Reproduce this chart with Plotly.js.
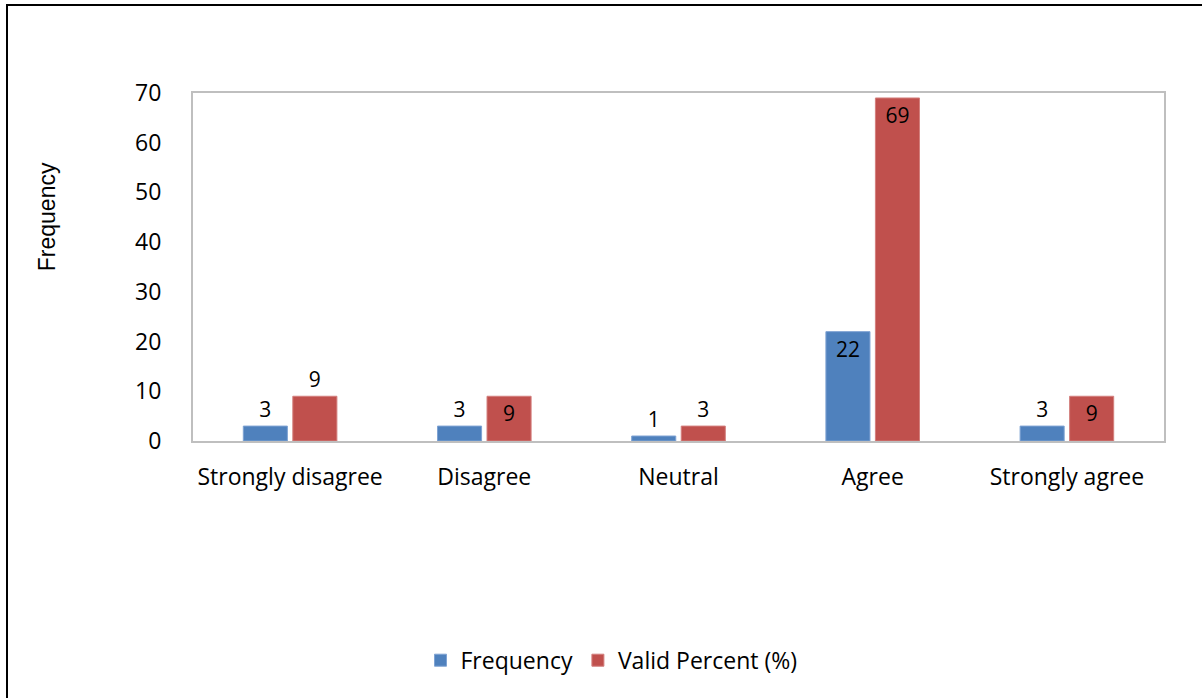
<!DOCTYPE html>
<html>
<head>
<meta charset="utf-8">
<script src="https://cdn.plot.ly/plotly-3.0.1.min.js"></script>
<style>
  html, body { margin: 0; padding: 0; background: #fff; }
  #wrap { position: relative; width: 1202px; height: 698px; }
  #chart { width: 1202px; height: 698px; }
  #frame { position: absolute; left: 6px; top: 4px; right: 0; bottom: 0;
           border-top: 2px solid #000; border-left: 2px solid #000; pointer-events: none; }
</style>
</head>
<body>
<div id="wrap">
  <div id="chart"></div>
  <div id="frame"></div>
</div>
<script>
const categories = ["Strongly disagree", "Disagree", "Neutral", "Agree", "Strongly agree"];
const frequency = [3, 3, 1, 22, 3];
const validPercent = [9, 9, 3, 69, 9];
const freqLabelPos = ["outside", "outside", "outside", "inside", "outside"];
const pctLabelPos = ["outside", "inside", "outside", "inside", "inside"];
const yTitle = "Frequency";

const mainFont = "'Open Sans', sans-serif";
const lblFont = { family: mainFont, size: 21, color: "#000" };

const traces = [
  {
    type: "bar", name: "Frequency", x: categories, y: frequency,
    text: frequency.map(String), textposition: freqLabelPos,
    insidetextanchor: "end", textangle: 0, cliponaxis: false,
    textfont: lblFont, insidetextfont: lblFont, outsidetextfont: lblFont,
    marker: { color: "#4F81BD", line: { color: "#7fa3d3", width: 1 } }
  },
  {
    type: "bar", name: "Valid Percent (%)", x: categories, y: validPercent,
    text: validPercent.map(String), textposition: pctLabelPos,
    insidetextanchor: "end", textangle: 0, cliponaxis: false,
    textfont: lblFont, insidetextfont: lblFont, outsidetextfont: lblFont,
    marker: { color: "#C0504D", line: { color: "#d37f7d", width: 1 } }
  }
];

const layout = {
  width: 1202, height: 698,
  margin: { l: 193, r: 38, t: 93, b: 257 },
  paper_bgcolor: "#fff", plot_bgcolor: "#fff",
  barmode: "group", bargap: 0.49, bargroupgap: 0.11,
  font: { family: mainFont, size: 23, color: "#000" },
  showlegend: true,
  legend: {
    orientation: "h", x: 0.431, xanchor: "center", y: -0.63, yanchor: "middle",
    font: { family: mainFont, size: 23, color: "#000" },
    itemwidth: 30, tracegroupgap: 0
  },
  xaxis: {
    showline: true, linecolor: "#bfbfbf", linewidth: 2, mirror: true,
    ticks: "", showgrid: false, ticklabelstandoff: 14,
    tickfont: { family: mainFont, size: 23, color: "#000" }
  },
  yaxis: {
    range: [0, 70], dtick: 10, tick0: 0,
    showline: true, linecolor: "#bfbfbf", linewidth: 2, mirror: true,
    ticks: "", showgrid: false, zeroline: false, ticklabelstandoff: 25,
    tickfont: { family: mainFont, size: 23, color: "#000" }
  },
  annotations: [{
    text: yTitle, xref: "paper", yref: "paper", x: -0.150, y: 0.644,
    xanchor: "center", yanchor: "middle", textangle: -90, showarrow: false,
    font: { family: "'Liberation Sans', Arial, sans-serif", size: 23, color: "#000" }
  }]
};

Plotly.newPlot("chart", traces, layout, { displayModeBar: false, staticPlot: true });
</script>
</body>
</html>
